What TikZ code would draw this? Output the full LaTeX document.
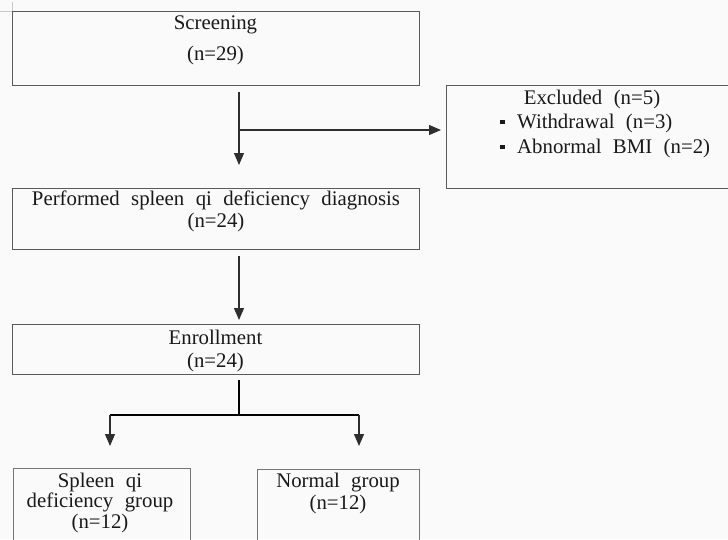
\documentclass[tikz,border=0pt]{standalone}
\usepackage{fontspec}
\setmainfont{Liberation Serif}
\usetikzlibrary{arrows.meta}
\definecolor{bgpaper}{HTML}{FAFAFA}
\definecolor{boxgray}{HTML}{5A5A5A}
\definecolor{boxlight}{HTML}{767676}
\definecolor{linegray}{HTML}{2E2E2E}
\definecolor{cropgray}{HTML}{C8C8C8}
\newcommand{\boxfont}[1]{\fontsize{20.8}{#1}\selectfont\spaceskip=0.55em\relax}
\newcommand{\sqbullet}{\rule[4pt]{4.5pt}{4.5pt}\hspace{12.5pt}}

\begin{document}
\begin{tikzpicture}[x=1pt,y=-1pt,
    box/.style={draw=boxgray, line width=1.3pt, anchor=north west, inner sep=0pt},
    lbl/.style={align=center, inner sep=0pt, text=black!90},
    conn/.style={draw=linegray, line width=1.1pt},
    fat/.style={draw=black, line width=2.2pt},
    arr/.style={conn, -{Triangle[width=10pt,length=12pt]}}]
    \useasboundingbox (0,0) rectangle (728,539);
    \fill[bgpaper] (0,0) rectangle (728,539);
    \clip (0,0) rectangle (728,539);
    \draw[cropgray, line width=0.8pt] (0,11) -- (12,11) -- (12,2);

    % boxes
    \node[box, minimum width=407, minimum height=74] (screen) at (12,11) {};
    \node[box, minimum width=294, minimum height=103] (excl) at (446,85) {};
    \node[box, minimum width=407, minimum height=61] (perf) at (12,188) {};
    \node[box, minimum width=407, minimum height=50] (enrol) at (12,324) {};
    \node[box, draw=boxlight, line width=1pt, minimum width=177, minimum height=100] (spleen) at (13,468) {};
    \node[box, draw=boxlight, line width=1pt, minimum width=162, minimum height=100] (normal) at (257,469) {};

    % texts
    \node[lbl, font=\boxfont{31}] (screen-t) at (215.5,40.5) {Screening\\(n=29)};
    \node[lbl, font=\boxfont{24}] (excl-t) at (592,99) {Excluded (n=5)};
    \node[lbl, font=\boxfont{25}, align=left, anchor=west] (excl-l) at (500,135.5)
        {\sqbullet Withdrawal (n=3)\\\sqbullet Abnormal BMI (n=2)};
    \node[lbl, font=\boxfont{22}] (perf-t) at (216,211) {Performed spleen qi deficiency diagnosis\\(n=24)};
    \node[lbl, font=\boxfont{23}] (enrol-t) at (215.5,350.5) {Enrollment\\(n=24)};
    \node[lbl, font=\boxfont{20.5}] (spleen-t) at (100,502.5) {Spleen qi\\deficiency group\\(n=12)};
    \node[lbl, font=\boxfont{22}] (normal-t) at (338,493) {Normal group\\(n=12)};

    % connectors
    \coordinate (trunk) at (239,0);
    \coordinate (fork) at (239,130);
    \coordinate (split) at (239,415);
    \coordinate (lt) at (110,415);
    \coordinate (rt) at (359,415);

    \draw[arr, shorten <=6pt, shorten >=23pt] (screen.south -| trunk) -- (perf.north -| trunk);
    \draw[arr, shorten >=5pt] (fork) -- (excl.west |- fork);
    \draw[arr, shorten <=6pt, shorten >=4pt] (perf.south -| trunk) -- (enrol.north -| trunk);
    \draw[fat, shorten <=5pt] (enrol.south -| trunk) -- (split);
    \draw[fat] (lt) -- (rt);
    \draw[arr] (lt) -- ([yshift=22pt]lt |- spleen.north);
    \draw[arr] (rt) -- ([yshift=23pt]rt |- normal.north);
\end{tikzpicture}
\end{document}
